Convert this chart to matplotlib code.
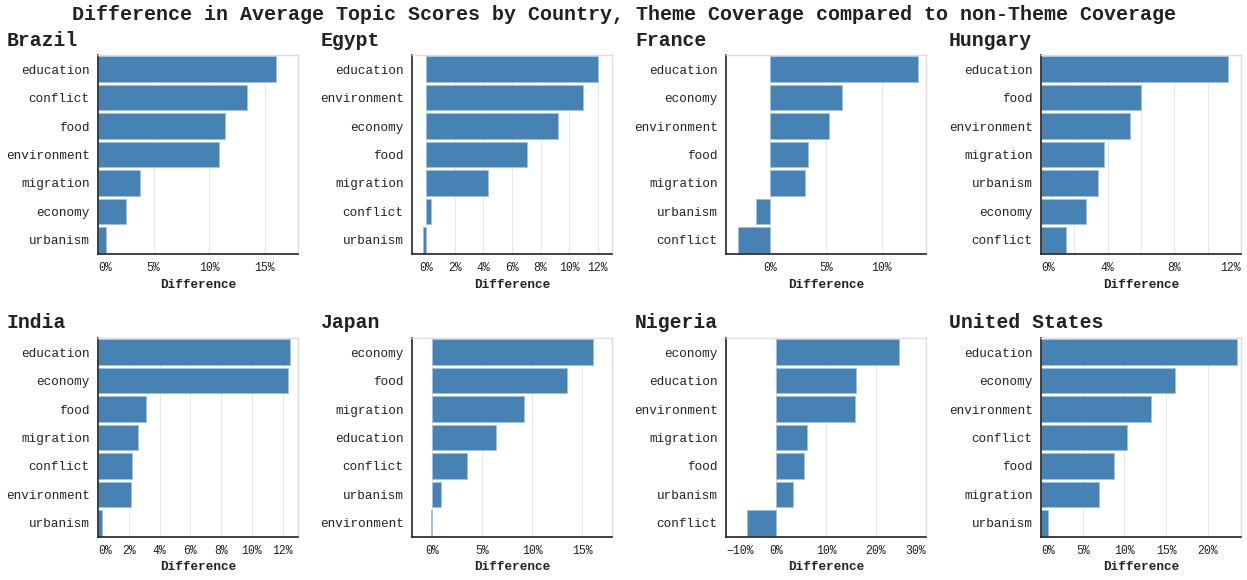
import matplotlib
matplotlib.use("Agg")
import matplotlib.pyplot as plt

# values (difference in % points)
brazil_topics = ["education", "conflict", "food", "environment", "migration", "economy", "urbanism"]
brazil_values = [16.0, 13.4, 11.4, 10.9, 3.8, 2.5, 0.7]

egypt_topics = ["education", "environment", "economy", "food", "migration", "conflict", "urbanism"]
egypt_values = [12.0, 11.0, 9.2, 7.05, 4.35, 0.3, -0.2]

france_topics = ["education", "economy", "environment", "food", "migration", "urbanism", "conflict"]
france_values = [13.3, 6.45, 5.3, 3.35, 3.15, -1.3, -2.95]

hungary_topics = ["education", "food", "environment", "migration", "urbanism", "economy", "conflict"]
hungary_values = [11.2, 6.0, 5.35, 3.75, 3.4, 2.7, 1.5]

india_topics = ["education", "economy", "food", "migration", "conflict", "environment", "urbanism"]
india_values = [12.5, 12.35, 3.1, 2.6, 2.2, 2.15, 0.25]

japan_topics = ["economy", "food", "migration", "education", "conflict", "urbanism", "environment"]
japan_values = [16.1, 13.45, 9.15, 6.35, 3.5, 0.9, -0.1]

nigeria_topics = ["economy", "education", "environment", "migration", "food", "urbanism", "conflict"]
nigeria_values = [24.6, 15.9, 15.75, 6.2, 5.6, 3.45, -5.9]

us_topics = ["education", "economy", "environment", "conflict", "food", "migration", "urbanism"]
us_values = [23.5, 16.1, 13.15, 10.3, 8.7, 6.95, 0.85]

countries = ["Brazil", "Egypt", "France", "Hungary", "India", "Japan", "Nigeria", "United States"]
topics = [brazil_topics, egypt_topics, france_topics, hungary_topics,
          india_topics, japan_topics, nigeria_topics, us_topics]
values = [brazil_values, egypt_values, france_values, hungary_values,
          india_values, japan_values, nigeria_values, us_values]

# x domains, grid ticks and labelled ticks per panel
domains = [(0, 18), (-1, 13), (-4, 14), (0, 12), (0, 13), (-2, 18), (-10, 30), (0, 24)]
grid_ticks = [[0, 5, 10, 15], list(range(0, 13, 2)), [0, 5, 10], list(range(0, 13, 2)),
              list(range(0, 13, 2)), [0, 5, 10, 15], [-10, 0, 10, 20, 30], [0, 5, 10, 15, 20]]
label_ticks = [[0, 5, 10, 15], list(range(0, 13, 2)), [0, 5, 10], [0, 4, 8, 12],
               list(range(0, 13, 2)), [0, 5, 10, 15], [-10, 0, 10, 20, 30], [0, 5, 10, 15, 20]]

plt.rcParams['font.family'] = ['Liberation Mono', 'DejaVu Sans Mono']

W, H = 1247, 580
fig = plt.figure(figsize=(W / 100, H / 100), dpi=100)

fig.text(0.5, 1 - 15 / H,
         "Difference in Average Topic Scores by Country, Theme Coverage compared to non-Theme Coverage",
         ha='center', va='center', fontsize=14.4, fontweight='bold', color='#222')

col_left = [98, 412, 726, 1041]
row_top = [55, 338]
title_left = [7, 321, 635, 949]
pw, ph = 200, 199

for i, country in enumerate(countries):
    r, c = divmod(i, 4)
    ax = fig.add_axes([col_left[c] / W, 1 - (row_top[r] + ph) / H, pw / W, ph / H])
    y = list(range(len(topics[i])))
    ax.barh(y, values[i], height=0.9, color='#4682b4', edgecolor='#a3c2dd', linewidth=0.7, zorder=2)
    ax.set_ylim(len(y) - 0.5, -0.5)
    ax.set_yticks(y)
    ax.set_yticklabels(topics[i], fontsize=9.1, color='#222')

    lo, hi = domains[i]
    ax.set_xlim(lo, hi)
    ax.set_xticks(grid_ticks[i])
    labs = [(f"{t}%" if t in label_ticks[i] else "").replace('-', '\u2212') for t in grid_ticks[i]]
    ax.set_xticklabels(labs, fontsize=8.3, color='#222')
    # flush labels at the domain ends
    for t, lab in zip(grid_ticks[i], ax.get_xticklabels()):
        if t == lo:
            lab.set_ha('left')
        elif t == hi:
            lab.set_ha('right')
    ax.tick_params(length=0, pad=6)
    ax.xaxis.grid(True, color='#e8e8e8', linewidth=0.7, zorder=0)
    ax.set_axisbelow(True)

    for s in ['top', 'right']:
        ax.spines[s].set_color('#dddddd')
        ax.spines[s].set_linewidth(1)
    for s in ['left', 'bottom']:
        ax.spines[s].set_color('#222')
        ax.spines[s].set_linewidth(1.2)

    ax.set_xlabel("Difference", fontsize=9.1, fontweight='bold', color='#222', labelpad=3)

    fig.text(title_left[c] / W, 1 - (row_top[r] - 15) / H, country,
             ha='left', va='center', fontsize=14.2, fontweight='bold', color='#222')

fig.savefig("out.png", dpi=100)
